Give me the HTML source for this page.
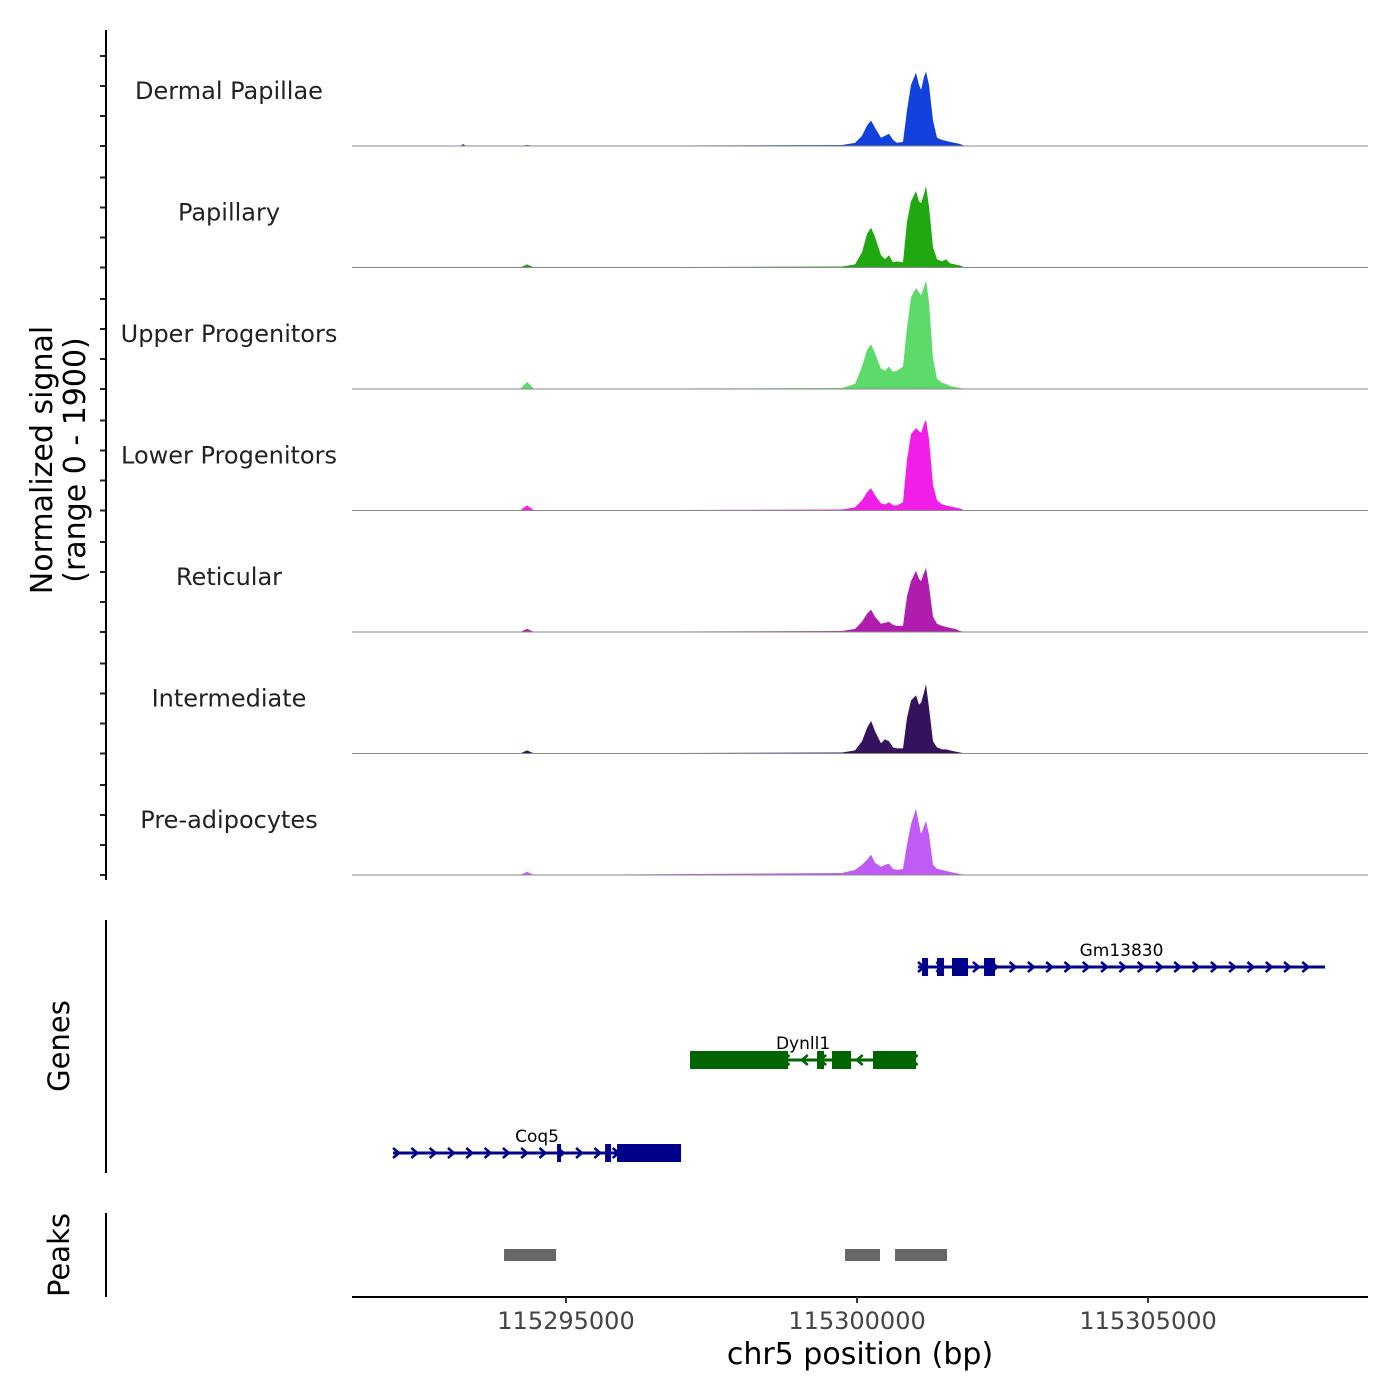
<!DOCTYPE html>
<html><head><meta charset="utf-8"><style>
html,body{margin:0;padding:0;background:#fff;}
svg{display:block;font-family:"DejaVu Sans","Liberation Sans",sans-serif;}
</style></head><body>
<svg id="chart" width="1400" height="1400" xmlns="http://www.w3.org/2000/svg"></svg>
<script>
const trackNames = ["Dermal Papillae","Papillary","Upper Progenitors","Lower Progenitors","Reticular","Intermediate","Pre-adipocytes"];
const trackColors = ["#1240dc","#1fa80f","#5cdb6a","#f01ee6","#b01cac","#35125e","#c05cf5"];
const positions = [115291323,115293179,115293231,115293283,115294210,115294331,115294451,115299742,115299966,115300086,115300172,115300241,115300309,115300412,115300481,115300550,115300618,115300687,115300790,115300859,115300928,115301014,115301065,115301100,115301151,115301185,115301237,115301306,115301374,115301460,115301529,115301598,115301684,115301770,115301855,115308779];
const dermal = [0,0,32,0,0,16,0,16,48,160,320,400,288,128,160,192,96,48,64,560,960,1152,960,880,1088,1168,960,400,128,96,80,64,48,32,0,0];
const papillary = [0,0,0,0,0,48,0,16,48,240,528,624,480,192,128,192,80,96,80,720,1040,1200,1040,1008,1152,1280,960,320,128,96,128,64,48,32,0,0];
const upper = [0,0,0,0,0,112,0,16,80,352,608,704,560,320,288,352,272,288,352,960,1440,1584,1520,1472,1600,1712,1360,480,160,96,80,48,32,16,0,0];
const lower = [0,0,0,0,0,80,0,16,48,160,288,352,240,112,96,128,80,80,128,800,1200,1296,1248,1216,1360,1424,1120,400,160,96,80,64,48,32,0,0];
const reticular = [0,0,0,0,0,48,0,16,48,160,288,352,240,128,144,160,112,96,96,560,800,960,832,800,928,1008,720,240,128,96,80,64,48,16,0,0];
const intermediate = [0,0,0,0,0,48,0,16,48,192,400,512,352,160,224,192,96,80,80,560,832,912,768,800,960,1088,720,192,96,64,64,48,32,16,0,0];
const preadipocytes = [0,0,0,0,0,48,0,32,80,160,240,320,192,128,160,176,96,80,96,480,800,1040,800,640,768,848,640,160,96,80,64,48,32,16,0,0];
const trackValues = [dermal,papillary,upper,lower,reticular,intermediate,preadipocytes];
const yMax = 1900;
const xTicks = [115295000,115300000,115305000];
const xTickLabels = ["115295000","115300000","115305000"];
const geneNames = ["Gm13830","Dynll1","Coq5"];
const geneStarts = [115301048,115297131,115292028];
const geneEnds = [115308040,115301014,115296976];
const geneStrands = ["+","-","+"];
const geneColors = ["#00008b","#006400","#00008b"];
const geneExons = [
  [[115301117,115301220],[115301374,115301495],[115301632,115301907],[115302182,115302371]],
  [[115297131,115298815],[115299313,115299433],[115299570,115299897],[115300275,115301014]],
  [[115294846,115294915],[115295671,115295774],[115295877,115296976]]
];
const peakStarts = [115293935,115299794,115300653];
const peakEnds = [115294829,115300395,115301546];

const NS="http://www.w3.org/2000/svg";
const svg=document.getElementById('chart');
const X0=352,X1=1368,B0=115291323,B1=115308779;
const xs=b=>X0+(b-B0)/(B1-B0)*(X1-X0);
const TH=121.5, firstBase=146, ypx=121;
const base=i=>firstBase+i*TH;
const ys=(i,v)=>base(i)-v/yMax*ypx;
function el(tag,attrs,parent){const e=document.createElementNS(NS,tag);for(const k in attrs)e.setAttribute(k,attrs[k]);(parent||svg).appendChild(e);return e;}

trackValues.forEach((vals,i)=>{
  const g=el('g',{});
  
  
  let d='M'+xs(positions[0])+','+base(i);
  vals.forEach((v,j)=>{d+=' L'+xs(positions[j]).toFixed(1)+','+ys(i,v).toFixed(1);});
  d+=' L'+xs(positions[positions.length-1])+','+base(i)+' Z';
  const p=el('path',{d:d,fill:trackColors[i],stroke:'none'},g);
  
  
  const bl=el('line',{x1:X0,x2:X1,y1:base(i),y2:base(i),stroke:'#888','stroke-width':1},g);
  
  
  const t=el('text',{x:229,y:base(i)-47,'text-anchor':'middle','font-size':24,fill:'#222'},g);
  t.textContent=trackNames[i];
  
  
  for(let k=0;k<4;k++){
    const tk=el('line',{x1:100,x2:106,y1:base(i)-k*30,y2:base(i)-k*30,stroke:'#222','stroke-width':2});
    
    
  }
});
const ya=el('line',{x1:106,x2:106,y1:30,y2:880,stroke:'#000','stroke-width':2});


const yt=el('text',{transform:'translate(52,460) rotate(-90)','text-anchor':'middle','font-size':30,fill:'#000'});


const t1=el('tspan',{x:0,dy:0},yt);t1.textContent='Normalized signal';
const t2=el('tspan',{x:0,dy:33},yt);t2.textContent='(range 0 - 1900)';

const ga=el('line',{x1:106,x2:106,y1:920,y2:1173,stroke:'#000','stroke-width':2});


const gt=el('text',{transform:'translate(69,1046) rotate(-90)','text-anchor':'middle','font-size':29});
gt.textContent='Genes';


const geneY=[967,1060,1153];
geneNames.forEach((n,i)=>{
  const g=el('g',{});
  
  
  const y=geneY[i],c=geneColors[i],a=xs(geneStarts[i]),b=xs(geneEnds[i]);
  el('line',{x1:a,x2:b,y1:y,y2:y,stroke:c,'stroke-width':3},g);
  for(let x=a+4;x<b-2;x+=18.3){
    const dir=geneStrands[i]==='+'?1:-1;
    el('path',{d:`M${x-4*dir},${y-5} L${x+2*dir},${y} L${x-4*dir},${y+5}`,fill:'none',stroke:c,'stroke-width':2.5},g);
  }
  geneExons[i].forEach(e=>{
    const r=el('rect',{x:xs(e[0]),y:y-9,width:Math.max(3,xs(e[1])-xs(e[0])),height:18,fill:c},g);
    
    
  });
  const lbl=el('text',{x:(a+b)/2,y:y-11,'text-anchor':'middle','font-size':17,fill:'#000'},g);
  lbl.textContent=n;
  
  
});

const pa=el('line',{x1:106,x2:106,y1:1213,y2:1297,stroke:'#000','stroke-width':2});


const pt=el('text',{transform:'translate(69,1255) rotate(-90)','text-anchor':'middle','font-size':29});
pt.textContent='Peaks';


peakStarts.forEach((s,i)=>{
  const r=el('rect',{x:xs(s),y:1249,width:xs(peakEnds[i])-xs(s),height:12,fill:'#666'});
  
  
});

const xa=el('line',{x1:X0,x2:X1,y1:1297,y2:1297,stroke:'#000','stroke-width':2});


xTicks.forEach((b,i)=>{
  const tk=el('line',{x1:xs(b),x2:xs(b),y1:1297,y2:1303,stroke:'#333','stroke-width':2});
  
  
  const tl=el('text',{x:xs(b),y:1329,'text-anchor':'middle','font-size':24,fill:'#444'});
  tl.textContent=xTickLabels[i];
  
  
});
const xt=el('text',{x:860,y:1364,'text-anchor':'middle','font-size':30,fill:'#000'});
xt.textContent='chr5 position (bp)';


</script>
</body></html>
